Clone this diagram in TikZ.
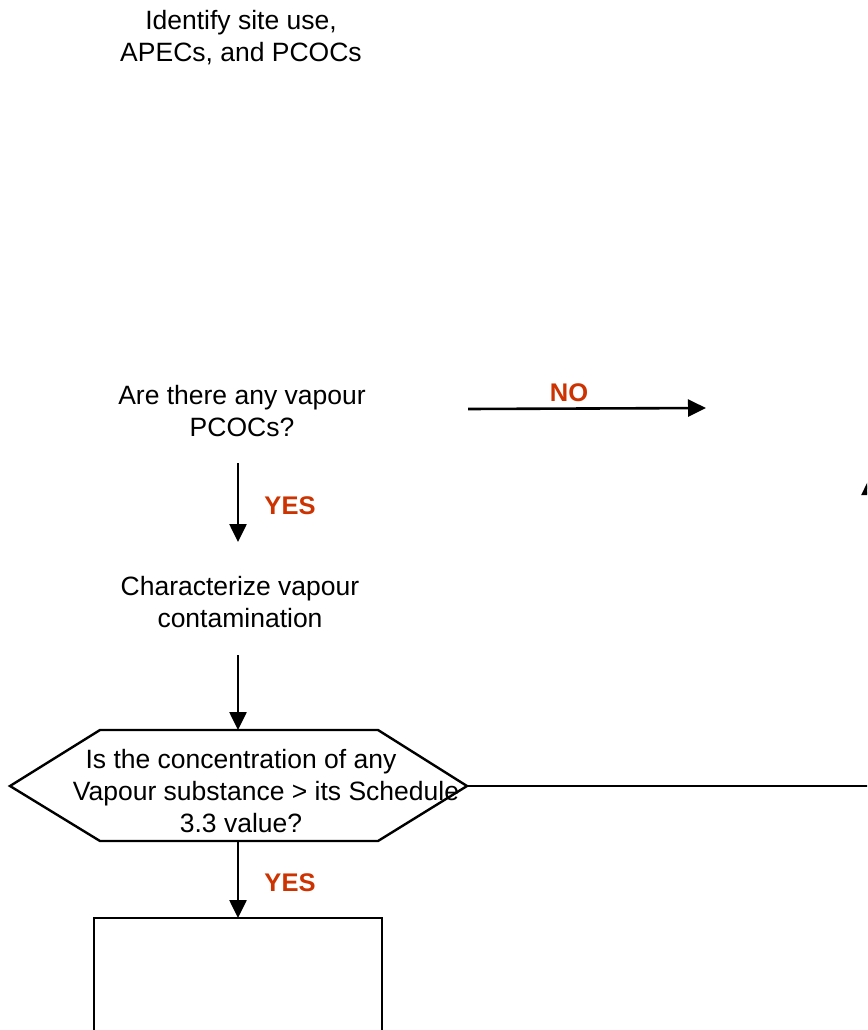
\documentclass[tikz,border=0pt]{standalone}
\usepackage{fontspec}
\setmainfont{Liberation Sans}
\usetikzlibrary{arrows.meta}
\definecolor{yn}{RGB}{204,51,0}
\begin{document}
\begin{tikzpicture}[x=1pt,y=-1pt,
 txt/.style={align=center,font=\fontsize{26.5}{32}\selectfont,inner sep=0pt,text=black},
 lbl/.style={font=\fontsize{25.5}{28}\selectfont\bfseries,text=yn,inner sep=0pt},
 arr/.style={line width=2.6pt,-{Triangle[width=17pt,length=18pt]}},
 shp/.style={line width=2.4pt},
 boxs/.style={line width=1.8pt}]
\useasboundingbox (0,0) rectangle (867,1030);
\clip (0,0) rectangle (867,1030);

% text nodes
\node[txt] (identify) at (241,38) {Identify site use,\\APECs, and PCOCs};
\node[txt] (vapq) at (242,411) {Are there any vapour\\PCOCs?};
\node[txt] (charz) at (240,602) {Characterize vapour\\contamination};

% hexagon decision
\coordinate (hL) at (10,786);
\coordinate (hTL) at (100,730);
\coordinate (hTR) at (378,730);
\coordinate (hR) at (467,786);
\coordinate (hBR) at (378,841);
\coordinate (hBL) at (100,841);
\draw[shp,fill=white] (hL) -- (hTL) -- (hTR) -- (hR) -- (hBR) -- (hBL) -- cycle;
\node[txt] (conc) at (241,791) {Is the concentration of any\\\hspace*{50pt}Vapour substance > its Schedule\\3.3 value?};

% box
\coordinate (bTL) at (94,918);
\coordinate (bBR) at (382,1045);
\draw[boxs] (bTL) rectangle (bBR);

% arrow coordinates
\coordinate (a1s) at (238,463);
\coordinate (a1e) at (238,542);
\coordinate (a2s) at (238,655);
\coordinate (a2e) at (238,730);
\coordinate (a3s) at (238,841);
\coordinate (a3e) at (238,918);
\coordinate (nos) at (468,409);
\coordinate (noe) at (706,408);
\coordinate (rEnd) at (875,786);
\coordinate (upS) at (870,600);
\coordinate (upE) at (870,477);

\draw[arr] (a1s) -- (a1e);
\draw[arr] (a2s) -- (a2e);
\draw[arr] (a3s) -- (a3e);
\draw[arr] (nos) -- (noe);
\draw[shp] (hR) -- (rEnd);
\draw[arr] (upS) -- (upE);

\node[lbl] (yes1) at (290,506) {YES};
\node[lbl] (yes2) at (290,883) {YES};
\node[lbl] (no1) at (569,393) {NO};
\end{tikzpicture}
\end{document}
